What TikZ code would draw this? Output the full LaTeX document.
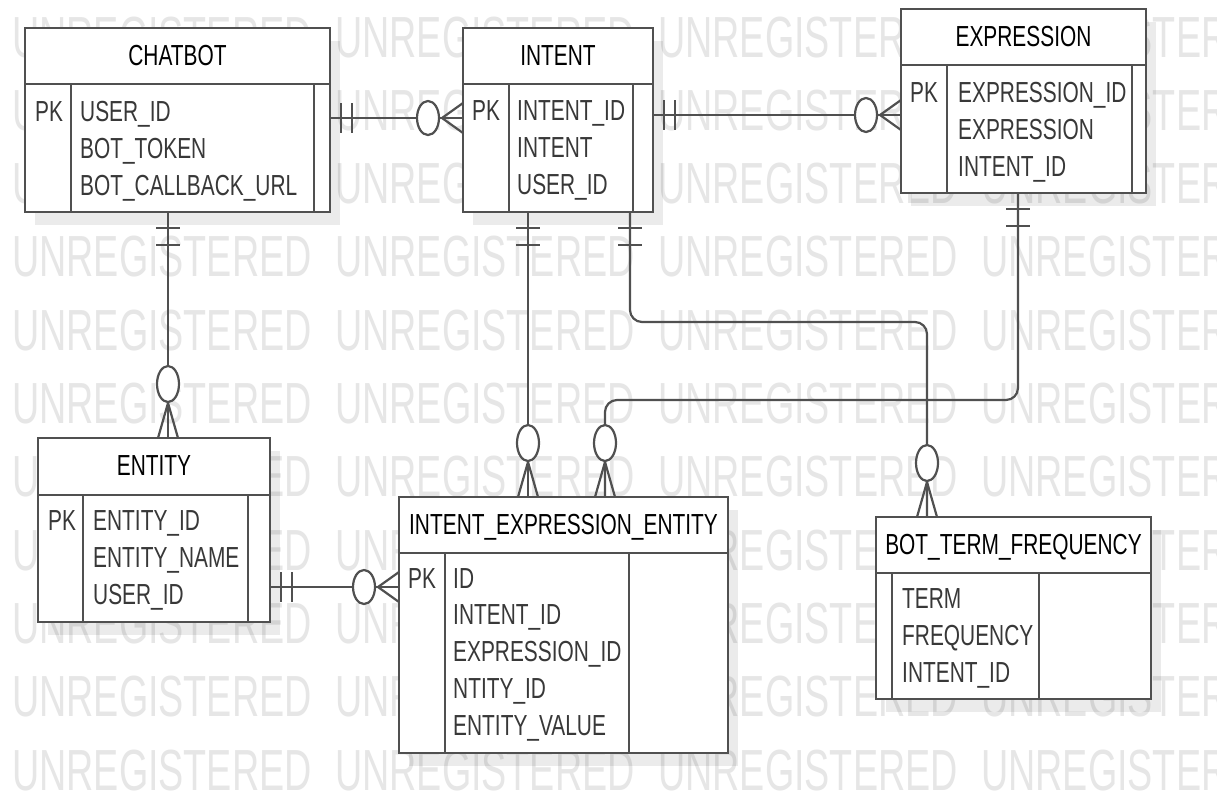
\documentclass[tikz,border=0pt]{standalone}
\usepackage{fontspec}
\setmainfont{Liberation Sans}[FakeStretch=0.72]
\newfontfamily\wmfont{Liberation Sans}[FakeStretch=0.65]
\usepackage{tikz}
\usetikzlibrary{calc,fit,shadows}
\definecolor{linegray}{HTML}{505050}
\definecolor{fieldtext}{HTML}{383838}
\definecolor{wmgray}{HTML}{E6E6E6}
% table frame: name, x0, y0, x1, y1, header line y, PK column x, right column x, title
\newcommand{\ertable}[9]{%
  \node[tblbox, fit={(#2,#3) (#4,#5)}] (#1) {};
  \draw[tblline] (#2,#6) -- (#4,#6);
  \draw[colline] (#7,#6) -- (#7,#5);
  \draw[colline] (#8,#6) -- (#8,#5);
  \node[tbltitle] (#1-title) at ({(#2+#4)/2},{(#3+#6)/2+9}) {#9};
}

\begin{document}
\begin{tikzpicture}[
  x=1pt, y=-1pt,
  tblbox/.style={draw=linegray, line width=2.6pt, fill=white, inner sep=0pt, outer sep=0pt,
                 drop shadow={shadow xshift=10pt, shadow yshift=-13pt, opacity=0.08, fill=black}},
  tblline/.style={draw=linegray, line width=2.6pt},
  colline/.style={draw=linegray, line width=1.8pt},
  tbltitle/.style={anchor=base, inner sep=0pt, font=\fontsize{29}{35}\selectfont, text=black},
  field/.style={anchor=base west, inner sep=0pt, font=\fontsize{29}{35}\selectfont, text=fieldtext},
  wm/.style={anchor=base west, inner sep=0pt, font=\wmfont\fontsize{58}{70}\selectfont, text=wmgray},
  conn/.style={draw=linegray, line width=2.2pt, rounded corners=12pt},
  % zero or many, entity to the right
  zmh/.pic={
    \draw[conn] (-21,0) -- (0,-15) (-21,0) -- (0,15);
    \draw[conn, fill=white] (-35,0) ellipse (11pt and 17pt);
  },
  % zero or many, entity below
  zmv/.pic={
    \draw[conn] (0,-35) -- (-10,0) (0,-35) -- (10,0);
    \draw[conn, fill=white] (0,-54) ellipse (11pt and 18pt);
  },
  % one and only one, line leaving to the right
  obh/.pic={
    \draw[conn] (11,-15) -- (11,15) (22,-15) -- (22,15);
  },
  % one and only one, line leaving downwards
  obv/.pic={
    \draw[conn] (-12,16) -- (12,16) (-12,33) -- (12,33);
  },
]
  \useasboundingbox[fill=white] (0,0) rectangle (1217,796);

  % Watermark
  \begin{scope}
    \clip (0,0) rectangle (1217,796);
    \foreach \r in {0,...,10}
      \foreach \c in {0,...,3}
        \node[wm] (wm-\r-\c) at (12+323*\c, 57+73.3*\r) {UNREGISTERED};
  \end{scope}

  % Tables
  \ertable{chatbot}{25}{28}{330}{212}{84}{71}{314}{CHATBOT}
  \node[field] (chatbot-pk) at (35,121) {PK};
  \foreach \f [count=\i from 0] in {USER\_ID,BOT\_TOKEN,BOT\_CALLBACK\_URL}
    \node[field] (chatbot-f\i) at (80,121+37*\i) {\f};

  \ertable{intent}{463}{28}{653}{212}{84}{509}{633}{INTENT}
  \node[field] (intent-pk) at (472,120) {PK};
  \foreach \f [count=\i from 0] in {INTENT\_ID,INTENT,USER\_ID}
    \node[field] (intent-f\i) at (517,120+37*\i) {\f};

  \ertable{expression}{901}{9}{1146}{193}{65}{947}{1132}{EXPRESSION}
  \node[field] (expression-pk) at (910,102) {PK};
  \foreach \f [count=\i from 0] in {EXPRESSION\_ID,EXPRESSION,INTENT\_ID}
    \node[field] (expression-f\i) at (958,102+37*\i) {\f};

  \ertable{entity}{38}{438}{270}{622}{495}{83}{248}{ENTITY}
  \node[field] (entity-pk) at (48,530) {PK};
  \foreach \f [count=\i from 0] in {ENTITY\_ID,ENTITY\_NAME,USER\_ID}
    \node[field] (entity-f\i) at (93,530+37*\i) {\f};

  \ertable{iee}{399}{497}{728}{753}{553}{445}{629}{INTENT\_EXPRESSION\_ENTITY}
  \node[field] (iee-pk) at (408,588) {PK};
  \foreach \f [count=\i from 0] in {ID,INTENT\_ID,EXPRESSION\_ID,NTITY\_ID,ENTITY\_VALUE}
    \node[field] (iee-f\i) at (453,588+36.75*\i) {\f};

  \ertable{btf}{876}{517}{1151}{699}{573}{892}{1039}{BOT\_TERM\_FREQUENCY}
  \foreach \f [count=\i from 0] in {TERM,FREQUENCY,INTENT\_ID}
    \node[field] (btf-f\i) at (902,608+37*\i) {\f};

  % Relationships
  \draw[conn] (chatbot.east |- 0,118) -- (intent.west |- 0,118);
  \pic at (chatbot.east |- 0,118) {obh};
  \pic at (intent.west |- 0,118) {zmh};

  \draw[conn] (intent.east |- 0,115) -- (expression.west |- 0,115);
  \pic at (intent.east |- 0,115) {obh};
  \pic at (expression.west |- 0,115) {zmh};

  \draw[conn] (chatbot.south -| 168,0) -- (entity.north -| 168,0);
  \pic at (chatbot.south -| 168,0) {obv};
  \pic at (entity.north -| 168,0) {zmv};

  \draw[conn] (entity.east |- 0,587) -- (iee.west |- 0,587);
  \pic at (entity.east |- 0,587) {obh};
  \pic at (iee.west |- 0,587) {zmh};

  \draw[conn] (intent.south -| 528,0) -- (iee.north -| 528,0);
  \pic at (intent.south -| 528,0) {obv};
  \pic at (iee.north -| 528,0) {zmv};

  \draw[conn] (intent.south -| 630,0) -- (630,322) -- (927,322) -- (btf.north -| 927,0);
  \pic at (intent.south -| 630,0) {obv};
  \pic at (btf.north -| 927,0) {zmv};

  \draw[conn] (expression.south -| 1018,0) -- (1018,400) -- (605,400) -- (iee.north -| 605,0);
  \pic at (expression.south -| 1018,0) {obv};
  \pic at (iee.north -| 605,0) {zmv};
\end{tikzpicture}
\end{document}
